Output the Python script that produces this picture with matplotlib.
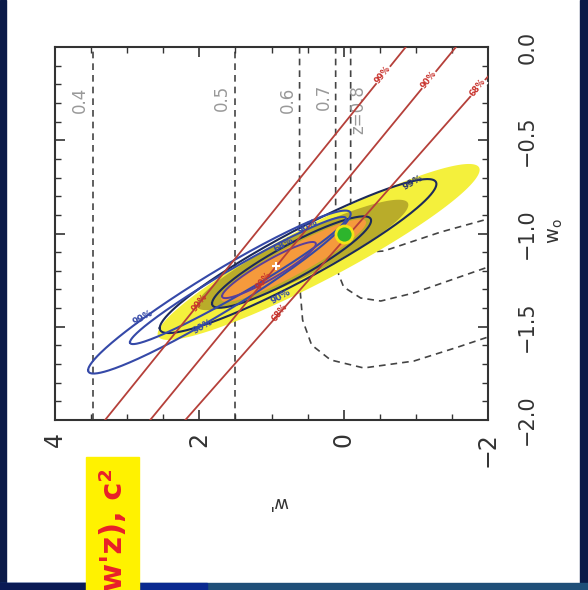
import numpy as np
import matplotlib.pyplot as plt
from matplotlib.patches import Rectangle
from matplotlib.ticker import MultipleLocator

# axis ranges and ticks
wp_lim = [4, -2]
w0_lim = [-2, 0]
wp_ticks = [4, 2, 0, -2]
wp_ticklabels = ['4', '2', '0', '\u22122']
w0_ticks = [-2.0, -1.5, -1.0, -0.5, 0.0]
w0_ticklabels = ['\u22122.0', '\u22121.5', '\u22121.0', '\u22120.5', '0.0']

# confidence regions: centre (w', w0), sigma_w', sigma_w0, correlation
yellow_c, yellow_s = (0.347, -1.099), (2.231, 0.4718, -0.9330)
olive_c, olive_s = (0.569, -1.115), (1.465, 0.2961, -0.9068)
orange_c, orange_s = (0.694, -1.145), (1.004, 0.2214, -0.9230)
navy99_c, navy99_s = (0.632, -1.121), (1.917, 0.4129, -0.9357)
navy68_c, navy68_s = (0.722, -1.153), (1.102, 0.2451, -0.9066)
blue99_c, blue99_s = (1.722, -1.314), (1.819, 0.4370, -0.9583)
blue90_c, blue90_s = (1.465, -1.252), (1.496, 0.3410, -0.9714)
blue68_c, blue68_s = (1.035, -1.196), (0.650, 0.1506, -0.9285)

# red bands: w' at w0=-2 and at w0=0
red_names = ['99%', '90%', '68%']
red_wp_lo = [3.306, 2.681, 2.194]
red_wp_hi = [-0.861, -1.556, -2.361]
red_lab_top = [-0.150, -0.177, -0.220]
red_lab_bot = [-1.373, -1.255, -1.426]

# constant-z lines
z_straight_wp = [3.47, 1.50]
z06_wp = [0.611, 0.611, 0.60, 0.569, 0.444, 0.181, -0.278, -0.972, -1.583, -2.0]
z06_w0 = [0.0, -1.25, -1.32, -1.464, -1.598, -1.678, -1.721, -1.684, -1.609, -1.555]
z07_wp = [0.111, 0.111, 0.069, 0.0, -0.236, -0.514, -0.972, -1.444, -2.0]
z07_w0 = [0.0, -1.15, -1.22, -1.287, -1.346, -1.362, -1.319, -1.255, -1.180]
z08_wp = [-0.097, -0.097, -0.167, -0.347, -0.556, -1.347, -2.0]
z08_w0 = [0.0, -0.98, -1.062, -1.099, -1.094, -0.992, -0.922]
z_labels = ['0.4', '0.5', '0.6', '0.7', 'z=0.8']
z_lab_wp = [3.653, 1.681, 0.778, 0.278, -0.208]
z_lab_w0 = [-0.284, -0.273, -0.284, -0.268, -0.338]

# contour labels
cl_text = ['99%', '90%', '90%', '68%', '90%', '99%']
cl_wp = [2.79, 1.958, 0.5, 0.833, 0.875, -0.958]
cl_w0 = [-1.448, -1.501, -0.965, -1.062, -1.34, -0.729]
cl_col = ['#3549a8', '#3549a8', '#3549a8', '#3549a8', '#3549a8', '#2a3570']

fiducial = (0.0, -1.0)
best_fit = (0.931, -1.174)


def ellipse(c, s):
    t = np.linspace(0, 2 * np.pi, 300)
    s1, s2, rho = s
    cov = np.array([[s1 ** 2, rho * s1 * s2], [rho * s1 * s2, s2 ** 2]])
    L = np.linalg.cholesky(cov)
    p = L @ np.vstack([np.cos(t), np.sin(t)])
    return c[0] + p[0], c[1] + p[1]


fig = plt.figure(figsize=(5.88, 5.90), dpi=100)
fig.patch.set_facecolor('white')

# slide decoration
fig.patches.append(Rectangle((0, 0), 6 / 588, 1, transform=fig.transFigure, color='#0b1a48', zorder=0))
fig.patches.append(Rectangle((580 / 588, 0), 8 / 588, 1, transform=fig.transFigure, color='#0b1a48', zorder=0))
fig.patches.append(Rectangle((0, 0), 1, 7 / 590, transform=fig.transFigure, color='#1f4f78', zorder=0))
fig.patches.append(Rectangle((0, 0), 207 / 588, 7 / 590, transform=fig.transFigure, color='#0a2a90', zorder=0))
fig.patches.append(Rectangle((0, 0), 86 / 588, 7 / 590, transform=fig.transFigure, color='#0a1a55', zorder=0))
fig.patches.append(Rectangle((86 / 588, 0), 53 / 588, 133 / 590, transform=fig.transFigure, color='#fff200', zorder=1))
fig.text(113 / 588, 1 - 468 / 590, "w'z), c\u00b2", rotation=90, ha='center', va='top',
         fontsize=22, fontweight='bold', color='#e8202a', zorder=2)

ax = fig.add_axes([55 / 588, 1 - 420 / 590, 433 / 588, 373 / 590])
ax.set_xlim(wp_lim)
ax.set_ylim(w0_lim)

# z lines
for wp in z_straight_wp:
    ax.plot([wp, wp], w0_lim, color='#444444', lw=1.2, dashes=(4, 3), zorder=1)
for xs, ys in [(z06_wp, z06_w0), (z07_wp, z07_w0), (z08_wp, z08_w0)]:
    ax.plot(xs, ys, color='#444444', lw=1.2, dashes=(4, 3), zorder=1)
for t, x, y in zip(z_labels, z_lab_wp, z_lab_w0):
    ax.text(x, y, t, rotation=90, ha='center', va='center', fontsize=12, color='#999999', zorder=1)

# filled regions
ax.fill(*ellipse(yellow_c, yellow_s), color='#f4f03c', lw=0, zorder=2)
ax.fill(*ellipse(olive_c, olive_s), color='#b9ac2a', lw=0, zorder=3)
ax.fill(*ellipse(orange_c, orange_s), color='#f59a3c', lw=0, zorder=4)

# contour lines
ax.plot(*ellipse(navy99_c, navy99_s), color='#1c2a5a', lw=1.5, zorder=5)
ax.plot(*ellipse(navy68_c, navy68_s), color='#1c2a5a', lw=1.5, zorder=5)
ax.plot(*ellipse(blue99_c, blue99_s), color='#3549a8', lw=1.5, zorder=5)
ax.plot(*ellipse(blue90_c, blue90_s), color='#3549a8', lw=1.5, zorder=5)
ax.plot(*ellipse(blue68_c, blue68_s), color='#5b3f9a', lw=1.4, zorder=5)
for t, x, y, c in zip(cl_text, cl_wp, cl_w0, cl_col):
    ax.text(x, y, t, rotation=29, ha='center', va='center', fontsize=6.5,
            fontweight='bold', color=c, zorder=7)

# red bands
for name, lo, hi, yt, yb in zip(red_names, red_wp_lo, red_wp_hi, red_lab_top, red_lab_bot):
    ax.plot([lo, hi], w0_lim, color='#b5403a', lw=1.3, zorder=6)
    for y, bg in [(yt, 'white'), (yb, 'none')]:
        x = lo + (hi - lo) * (y + 2) / 2
        ax.text(x, y, name, rotation=52, ha='center', va='center', fontsize=6,
                fontweight='bold', color='#c8302a', zorder=7,
                bbox=dict(facecolor=bg, edgecolor='none', pad=0.5))

ax.scatter([fiducial[0]], [fiducial[1]], s=150, c='#2db52d', edgecolors='#f2e414',
           linewidths=2, zorder=8)
ax.plot([best_fit[0]], [best_fit[1]], marker='+', color='white', ms=6, mew=1.5, zorder=8)

# axes styling
for s in ax.spines.values():
    s.set_linewidth(1.5)
    s.set_color('#333333')
ax.set_xticks(wp_ticks)
ax.set_xticklabels(wp_ticklabels, rotation=90, fontsize=17, color='#333333')
ax.xaxis.set_minor_locator(MultipleLocator(0.5))
ax.set_yticks(w0_ticks)
ax.set_yticklabels(w0_ticklabels, rotation=90, fontsize=15, va='center', color='#333333')
ax.yaxis.set_minor_locator(MultipleLocator(0.1))
ax.tick_params(which='both', direction='in', top=True, bottom=True, left=True, right=True,
               labelleft=False, labelright=True, color='#333333')
ax.tick_params(which='major', length=7, width=1.2)
ax.tick_params(which='minor', length=4, width=1.0)
ax.tick_params(axis='x', which='major', pad=8.5)
ax.tick_params(axis='y', which='major', pad=21)

ax.text(0.515, -0.22, "w'", rotation=180, transform=ax.transAxes, ha='center', va='center',
        fontsize=13, color='#333333')
ax.text(1.155, 0.507, r'$\mathsf{w_o}$', rotation=90, transform=ax.transAxes, ha='center',
        va='center', fontsize=14, color='#333333')

fig.savefig('out.png', dpi=100)
